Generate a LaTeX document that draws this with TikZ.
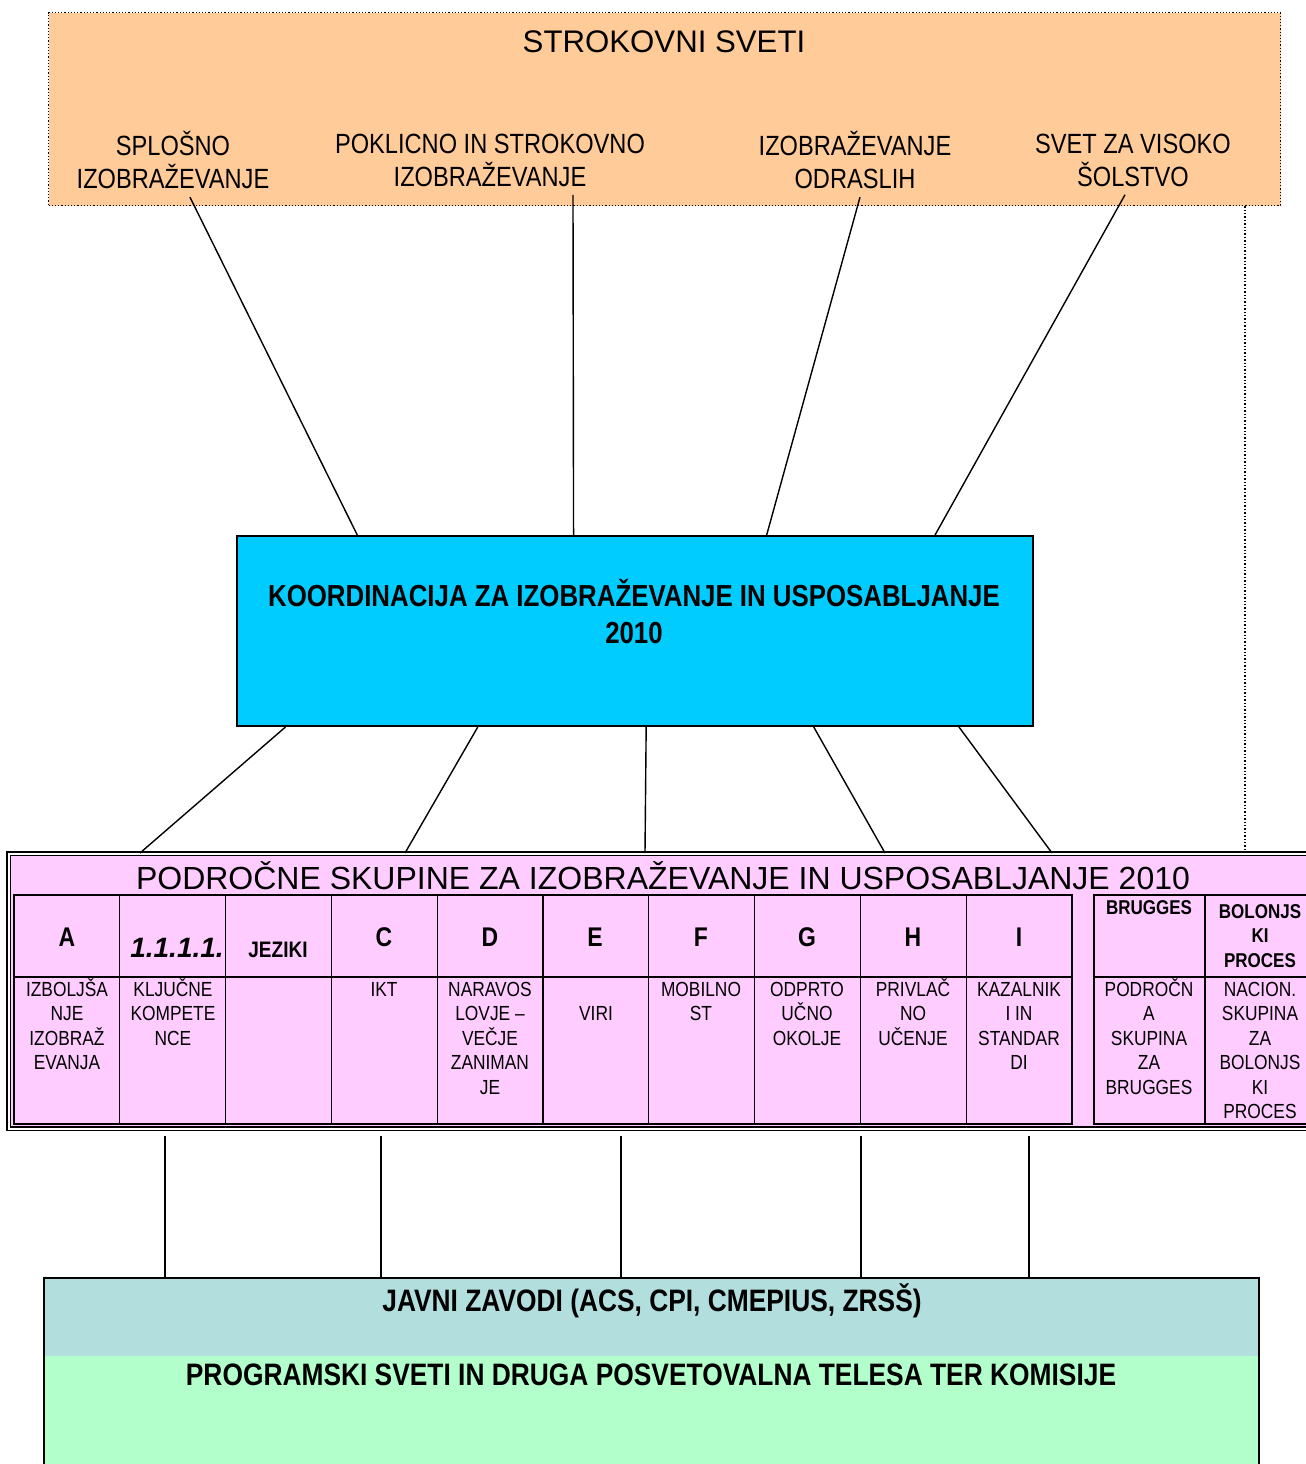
\documentclass[tikz,border=0pt]{standalone}
\usepackage{fontspec}
\setmainfont{Liberation Sans}
\newfontfamily\narrowsans[FakeStretch=0.85]{Liberation Sans}
\usetikzlibrary{calc}

\definecolor{peach}{RGB}{255,204,153}
\definecolor{koordblue}{RGB}{0,204,255}
\definecolor{skupinepink}{RGB}{255,204,255}
\definecolor{zavodteal}{RGB}{178,222,222}
\definecolor{svetgreen}{RGB}{179,255,204}

\begin{document}
\begin{tikzpicture}[
	x=0.5pt, y=-0.5pt,
	link/.style={line width=0.7pt},
	svet/.style={font=\narrowsans\fontsize{13.9}{16.5}\selectfont, align=center, inner sep=0pt},
	letter/.style={font=\narrowsans\bfseries\fontsize{13.5}{16}\selectfont, inner sep=0pt},
	body/.style={font=\narrowsans\fontsize{10.2}{12.25}\selectfont, align=center, inner sep=0pt, anchor=base},
	bhead/.style={font=\narrowsans\bfseries\fontsize{10}{12.25}\selectfont, align=center, inner sep=0pt},
	bigbold/.style={font=\narrowsans\bfseries\fontsize{15.2}{18.5}\selectfont, align=center, inner sep=0pt},
	cell/.style={draw, line width=0.6pt},
	]
\useasboundingbox (0,0) rectangle (1306,1464);

% strokovni sveti
\node [draw, densely dotted, line width=0.6pt, fill=peach, inner sep=0pt,
	minimum width=616pt, minimum height=96.5pt, anchor=north west] (sveti) at (48,12) {};
\node [font=\fontsize{15.6}{18}\selectfont, inner sep=0pt] (svetitxt) at (664,42) {STROKOVNI SVETI};
\node [svet] (splosno) at (173,160) {SPLOŠNO\\IZOBRAŽEVANJE};
\node [svet] (poklicno) at (490,160) {POKLICNO IN STROKOVNO\\IZOBRAŽEVANJE};
\node [svet] (odrasli) at (855,160) {IZOBRAŽEVANJE\\ODRASLIH};
\node [svet] (visoko) at (1133,160) {SVET ZA VISOKO\\ŠOLSTVO};

% koordinacija
\node [draw, line width=1pt, fill=koordblue, inner sep=0pt,
	minimum width=398pt, minimum height=95pt, anchor=north west] (koord) at (236,535) {};
\node [bigbold] (koordtxt) at (634,612) {KOORDINACIJA ZA IZOBRAŽEVANJE IN USPOSABLJANJE\\2010};

\draw [link] ([xshift=8.5pt,yshift=-4pt]splosno.south) -- ($(koord.north west)!0.152!(koord.north east)$);
\draw [link] ([xshift=41.5pt,yshift=-4pt]poklicno.south) -- ($(koord.north west)!0.423!(koord.north east)$);
\draw [link] ([xshift=2.5pt,yshift=-4pt]odrasli.south) -- ($(koord.north west)!0.665!(koord.north east)$);
\draw [link] ([xshift=-4pt,yshift=-4pt]visoko.south) -- ($(koord.north west)!0.876!(koord.north east)$);

% podrocne skupine
\node [draw, double, line width=0.8pt, double distance=0.9pt, fill=skupinepink, inner sep=0pt,
	minimum width=654pt, minimum height=137.5pt, anchor=north west] (skupine) at (8,853) {};
\node [font=\fontsize{16}{18}\selectfont, inner sep=0pt] (skupinetxt) at (663,876)
	{PODROČNE SKUPINE ZA IZOBRAŽEVANJE IN USPOSABLJANJE 2010};

\draw [link, densely dotted] (1245,0 |- sveti.south) -- (1245,0 |- skupine.north);

\foreach \i in {0,...,9} {
	\draw [cell] (14+105.8*\i,895) rectangle (119.8+105.8*\i,977);
	\draw [cell] (14+105.8*\i,977) rectangle (119.8+105.8*\i,1124);
}
\foreach \x in {1094,1205} {
	\draw [cell] (\x,895) rectangle (\x+111,977);
	\draw [cell] (\x,977) rectangle (\x+111,1124);
}

\node [letter] (hA) at (67,937) {A};
\node [font=\bfseries\itshape\fontsize{14}{16}\selectfont, inner sep=0pt] (hB) at (177,948) {1.1.1.1.};
\node [font=\narrowsans\bfseries\fontsize{11.2}{13}\selectfont, inner sep=0pt] (hJ) at (278,950) {JEZIKI};
\node [letter] (hC) at (384,937) {C};
\node [letter] (hD) at (490,937) {D};
\node [letter] (hE) at (595,937) {E};
\node [letter] (hF) at (701,937) {F};
\node [letter] (hG) at (807,937) {G};
\node [letter] (hH) at (913,937) {H};
\node [letter] (hI) at (1019,937) {I};
\node [bhead] (hBrugges) at (1149,908) {BRUGGES};
\node [bhead] (hBolonja) at (1260,936) {BOLONJS\\KI\\PROCES};

% base = last line
\node [body] (bA) at (67,1069.5) {IZBOLJŠA\\NJE\\IZOBRAŽ\\EVANJA};
\node [body] (bB) at (173,1045) {KLJUČNE\\KOMPETE\\NCE};
\node [body] (bC) at (384,996) {IKT};
\node [body] (bD) at (490,1094) {NARAVOS\\LOVJE –\\VEČJE\\ZANIMAN\\JE};
\node [body] (bE) at (596,1020.5) {VIRI};
\node [body] (bF) at (701,1020.5) {MOBILNO\\ST};
\node [body] (bG) at (807,1045) {ODPRTO\\UČNO\\OKOLJE};
\node [body] (bH) at (913,1045) {PRIVLAČ\\NO\\UČENJE};
\node [body] (bI) at (1019,1069.5) {KAZALNIK\\I IN\\STANDAR\\DI};
\node [body] (bBrugges) at (1149,1094) {PODROČN\\A\\SKUPINA\\ZA\\BRUGGES};
\node [body] (bBolonja) at (1260,1118.5) {NACION.\\SKUPINA\\ZA\\BOLONJS\\KI\\PROCES};

\draw [link] ($(koord.south west)!0.062!(koord.south east)$) -- (140,0 |- skupine.north);
\draw [link] ($(koord.south west)!0.303!(koord.south east)$) -- (405,0 |- skupine.north);
\draw [link] ($(koord.south west)!0.514!(koord.south east)$) -- (645,0 |- skupine.north);
\draw [link] ($(koord.south west)!0.724!(koord.south east)$) -- (885,0 |- skupine.north);
\draw [link] ($(koord.south west)!0.906!(koord.south east)$) -- (1052,0 |- skupine.north);

% javni zavodi
\node [fill=zavodteal, inner sep=0pt, minimum width=607pt, minimum height=39pt,
	anchor=north west] (zavodi) at (44,1278) {};
\node [fill=svetgreen, inner sep=0pt, minimum width=607pt, minimum height=57pt,
	anchor=north west] (programski) at (44,1356) {};
\draw [line width=1pt] (programski.south west) -- (zavodi.north west) -- (zavodi.north east) -- (programski.south east);
\node [bigbold, font=\narrowsans\bfseries\fontsize{15.5}{18}\selectfont] (zavoditxt) at (652,1301) {JAVNI ZAVODI (ACS, CPI, CMEPIUS, ZRSŠ)};
\node [bigbold, font=\narrowsans\bfseries\fontsize{15.5}{18}\selectfont] (programskitxt) at (651,1375) {PROGRAMSKI SVETI IN DRUGA POSVETOVALNA TELESA TER KOMISIJE};

\foreach \x in {165,381,621,861,1029}
	\draw [link, shorten <=3pt] (\x,0 |- skupine.south) -- (\x,0 |- zavodi.north);

\end{tikzpicture}
\end{document}
